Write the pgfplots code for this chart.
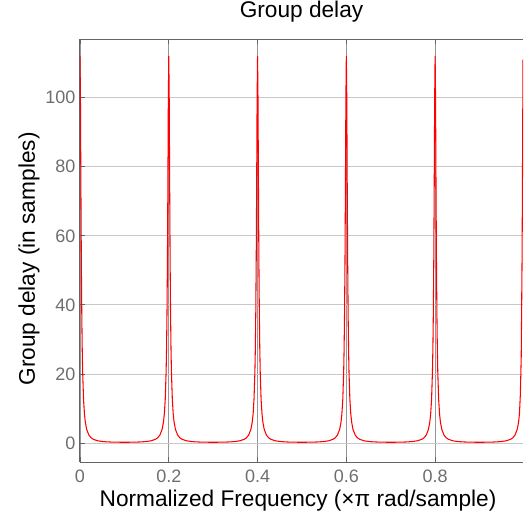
\documentclass[border=0pt]{standalone}
\usepackage{pgfplots}
\pgfplotsset{compat=1.18}
\usepackage{fontspec}
\setmainfont{Liberation Sans}
\definecolor{axgray}{RGB}{100,100,100}
\definecolor{tickgray}{RGB}{110,110,110}
\definecolor{gridgray}{RGB}{200,200,200}
\definecolor{vgridgray}{RGB}{150,150,150}
\pgfplotstableread{
x y
0.000 112.0
0.001 99.7
0.002 74.9
0.003 53.0
0.004 37.7
0.005 27.4
0.006 20.6
0.008 12.6
0.010 8.45
0.012 6.03
0.015 3.96
0.020 2.30
0.025 1.51
0.030 1.08
0.040 0.64
0.050 0.45
0.060 0.34
0.070 0.28
0.080 0.25
0.090 0.23
0.100 0.22
0.110 0.23
0.120 0.25
0.130 0.28
0.140 0.34
0.150 0.45
0.160 0.64
0.170 1.08
0.175 1.51
0.180 2.30
0.185 3.96
0.188 6.03
0.190 8.45
0.192 12.6
0.194 20.6
0.195 27.4
0.196 37.7
0.197 53.0
0.198 74.9
0.199 99.7
0.200 112.0
0.201 99.7
0.202 74.9
0.203 53.0
0.204 37.7
0.205 27.4
0.206 20.6
0.208 12.6
0.210 8.45
0.212 6.03
0.215 3.96
0.220 2.30
0.225 1.51
0.230 1.08
0.240 0.64
0.250 0.45
0.260 0.34
0.270 0.28
0.280 0.25
0.290 0.23
0.300 0.22
0.310 0.23
0.320 0.25
0.330 0.28
0.340 0.34
0.350 0.45
0.360 0.64
0.370 1.08
0.375 1.51
0.380 2.30
0.385 3.96
0.388 6.03
0.390 8.45
0.392 12.6
0.394 20.6
0.395 27.4
0.396 37.7
0.397 53.0
0.398 74.9
0.399 99.7
0.400 112.0
0.401 99.7
0.402 74.9
0.403 53.0
0.404 37.7
0.405 27.4
0.406 20.6
0.408 12.6
0.410 8.45
0.412 6.03
0.415 3.96
0.420 2.30
0.425 1.51
0.430 1.08
0.440 0.64
0.450 0.45
0.460 0.34
0.470 0.28
0.480 0.25
0.490 0.23
0.500 0.22
0.510 0.23
0.520 0.25
0.530 0.28
0.540 0.34
0.550 0.45
0.560 0.64
0.570 1.08
0.575 1.51
0.580 2.30
0.585 3.96
0.588 6.03
0.590 8.45
0.592 12.6
0.594 20.6
0.595 27.4
0.596 37.7
0.597 53.0
0.598 74.9
0.599 99.7
0.600 112.0
0.601 99.7
0.602 74.9
0.603 53.0
0.604 37.7
0.605 27.4
0.606 20.6
0.608 12.6
0.610 8.45
0.612 6.03
0.615 3.96
0.620 2.30
0.625 1.51
0.630 1.08
0.640 0.64
0.650 0.45
0.660 0.34
0.670 0.28
0.680 0.25
0.690 0.23
0.700 0.22
0.710 0.23
0.720 0.25
0.730 0.28
0.740 0.34
0.750 0.45
0.760 0.64
0.770 1.08
0.775 1.51
0.780 2.30
0.785 3.96
0.788 6.03
0.790 8.45
0.792 12.6
0.794 20.6
0.795 27.4
0.796 37.7
0.797 53.0
0.798 74.9
0.799 99.7
0.800 112.0
0.801 99.7
0.802 74.9
0.803 53.0
0.804 37.7
0.805 27.4
0.806 20.6
0.808 12.6
0.810 8.45
0.812 6.03
0.815 3.96
0.820 2.30
0.825 1.51
0.830 1.08
0.840 0.64
0.850 0.45
0.860 0.34
0.870 0.28
0.880 0.25
0.890 0.23
0.900 0.22
0.910 0.23
0.920 0.25
0.930 0.28
0.940 0.34
0.950 0.45
0.960 0.64
0.970 1.08
0.975 1.51
0.980 2.30
0.985 3.96
0.988 6.03
0.990 8.45
0.992 14.0
0.994 25.0
0.996 55.0
0.998 111.0
}\gd
\begin{document}
\begin{tikzpicture}[x=0.75pt,y=0.75pt]
\path[use as bounding box] (-80,-50) rectangle (444,462);
\begin{axis}[
  at={(0,0)}, anchor=south west,
  scale only axis, width=332.25pt, height=317.25pt,
  xmin=0, xmax=0.998, ymin=-5.5, ymax=117,
  axis y line*=left, axis x line*=box,
  axis line style={axgray, line width=0.75pt},
  xtick={0,0.2,0.4,0.6,0.8},
  xticklabels={0,0.2,0.4,0.6,0.8},
  ytick={0,20,40,60,80,100},
  tick align=inside, major tick length=4pt,
  tick style={axgray, line width=0.6pt},
  grid=major,
  major grid style={gridgray, line width=0.6pt},
  major x grid style={vgridgray, line width=0.5pt},
  /pgf/number format/assume math mode=true,
  tick label style={font=\fontsize{13.5}{16}\selectfont, text=tickgray},
  xticklabel style={anchor=north, inner sep=0pt, yshift=-6pt},
  yticklabel style={anchor=east, inner sep=0pt, xshift=-3.2pt},
  title={Group delay},
  title style={at={([yshift=10.5pt]axis description cs:0.5,1)}, anchor=base, inner sep=0pt, font=\fontsize{17}{20}\selectfont},
  xlabel={Normalized Frequency (×π rad/sample)},
  xlabel style={at={([yshift=-33pt,xshift=-2.6pt]axis description cs:0.5,0)}, anchor=base, inner sep=0pt, font=\fontsize{17}{20}\selectfont},
  ylabel={Group delay (in samples)},
  ylabel style={at={([xshift=-33.75pt]axis description cs:0,0.48)}, anchor=base, inner sep=0pt, font=\fontsize{17}{20}\selectfont},
  clip=true,
]
\addplot[red, line width=0.8pt, line join=round] table[x=x,y=y] {\gd};
\end{axis}
\end{tikzpicture}
\end{document}
